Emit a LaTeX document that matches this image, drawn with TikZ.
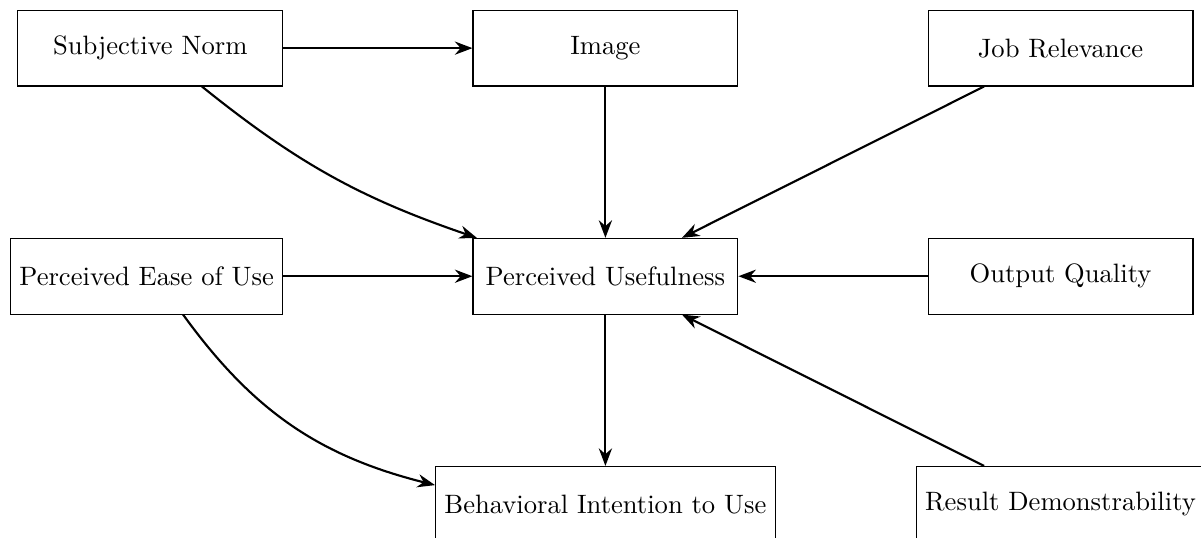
\documentclass[tikz,border=0pt]{standalone}
\usetikzlibrary{positioning,arrows.meta}

\begin{document}
\begin{tikzpicture}[factor/.style={draw, rectangle, minimum width=3.5cm, minimum height=1cm}, >={Stealth}, every edge/.style={draw, ->, thick}]
\useasboundingbox (-8.0,-3.446) rectangle (7.87,3.65);
\node[factor] (pu) at (0,0) {Perceived Usefulness};
\node[factor, above=2cm of pu] (img) {Image};
\node[factor, left=2.5cm of img] (sn) {Subjective Norm};
\node[factor, right=2.5cm of img] (jr) {Job Relevance};
\node[factor, left=2.5cm of pu] (peou) {Perceived Ease of Use};
\node[factor, right=2.5cm of pu] (oq) {Output Quality};
\node[factor, below=2cm of pu] (bi) {Behavioral Intention to Use};
\node[factor, below=2cm of oq] (rd) {Result Demonstrability};

\path (sn) edge (img)
      (sn) edge[bend right=10] (pu)
      (img) edge (pu)
      (jr) edge (pu)
      (peou) edge (pu)
      (oq) edge (pu)
      (rd) edge (pu)
      (pu) edge (bi)
      (peou) edge[bend right=20] (bi);
\end{tikzpicture}
\end{document}
